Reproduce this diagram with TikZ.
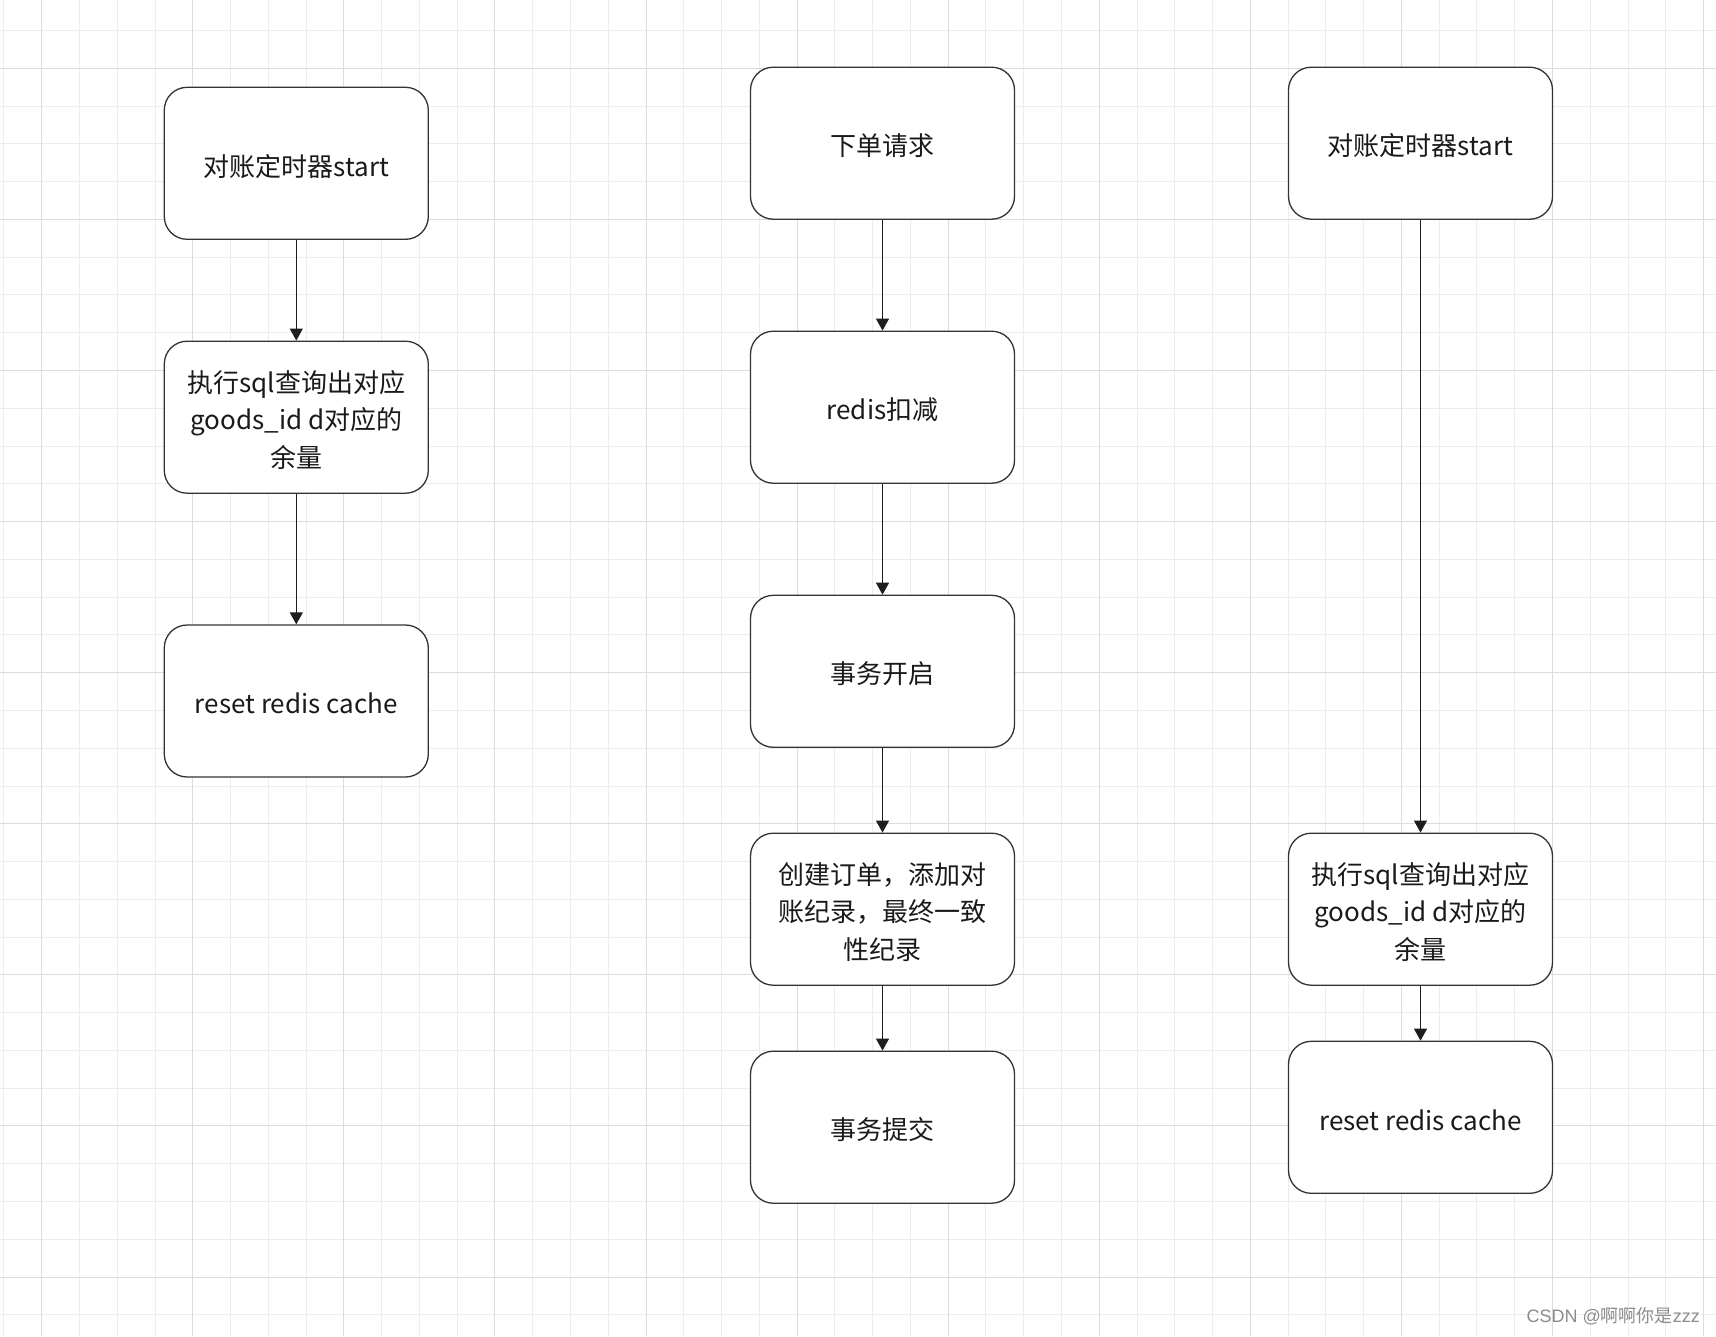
\documentclass[tikz,border=0pt]{standalone}
\usepackage{fontspec}
\setmainfont{Noto Sans CJK SC}
\newfontfamily\wmlat{Liberation Sans}
\usetikzlibrary{arrows.meta}
\definecolor{gridminor}{HTML}{EDEDED}
\definecolor{gridmajor}{HTML}{DCDCDC}
\definecolor{boxline}{HTML}{333333}
\definecolor{arrowline}{HTML}{1E1E1E}
\definecolor{textcol}{HTML}{1A1A1A}
\definecolor{wmgray}{HTML}{8C8C8C}
\newcommand{\dnline}[1]{\raisebox{-2.8pt}[\height][\depth]{#1}}
\tikzset{
  flowbox/.style={draw=boxline, fill=white, line width=1.3pt, rounded corners=22.8pt,
    minimum width=264pt, minimum height=152pt, inner sep=0pt, align=center,
    font=\fontsize{26}{37.6}\selectfont, text=textcol},
  flowarrow/.style={draw=arrowline, line width=1.3pt, -{Triangle[width=13pt,length=12pt]}},
  gridminorline/.style={draw=gridminor, line width=1pt},
  gridmajorline/.style={draw=gridmajor, line width=1pt},
  watermark/.style={anchor=east, inner sep=0pt, text=wmgray, font=\fontsize{18}{20}\selectfont},
}
\begin{document}
\begin{tikzpicture}[x=1pt,y=-1pt]
\useasboundingbox (0,0) rectangle (1716,1336);
\fill[white] (0,0) rectangle (1716,1336);
% grid
\foreach \k in {0,...,45}{
  \pgfmathsetmacro\gx{3.95+\k*37.77}
  \draw[gridminorline] (\gx,0) -- (\gx,1336);
}
\foreach \k in {0,...,34}{
  \pgfmathsetmacro\gy{30.6+\k*37.77}
  \draw[gridminorline] (0,\gy) -- (1716,\gy);
}
\foreach \k in {1,5,...,45}{
  \pgfmathsetmacro\gx{3.95+\k*37.77}
  \draw[gridmajorline] (\gx,0) -- (\gx,1336);
}
\foreach \k in {1,5,...,33}{
  \pgfmathsetmacro\gy{30.6+\k*37.77}
  \draw[gridmajorline] (0,\gy) -- (1716,\gy);
}
% left column
\node[flowbox] (l1) at (296.3,163.3) {\dnline{对账定时器start}};
\node[flowbox] (l2) at (296.3,417.2) {\dnline{执行sql查询出对应}\\\dnline{goods\_id d对应的}\\\dnline{余量}};
\node[flowbox] (l3) at (296.3,701) {\dnline{reset redis cache}};
% middle column
\node[flowbox] (m1) at (882.5,143.2) {\dnline{下单请求}};
\node[flowbox] (m2) at (882.5,407.2) {\dnline{redis扣减}};
\node[flowbox] (m3) at (882.5,671.3) {\dnline{事务开启}};
\node[flowbox] (m4) at (882.5,909.2) {\dnline{创建订单，添加对}\\\dnline{账纪录，最终一致}\\\dnline{性纪录}};
\node[flowbox] (m5) at (882.5,1127.2) {\dnline{事务提交}};
% right column
\node[flowbox] (r1) at (1420.5,143.2) {\dnline{对账定时器start}};
\node[flowbox] (r2) at (1420.5,909.2) {\dnline{执行sql查询出对应}\\\dnline{goods\_id d对应的}\\\dnline{余量}};
\node[flowbox] (r3) at (1420.5,1117.3) {\dnline{reset redis cache}};
% arrows
\draw[flowarrow] (l1) -- (l2);
\draw[flowarrow] (l2) -- (l3);
\draw[flowarrow] (m1) -- (m2);
\draw[flowarrow] (m2) -- (m3);
\draw[flowarrow] (m3) -- (m4);
\draw[flowarrow] (m4) -- (m5);
\draw[flowarrow] (r1) -- (r2);
\draw[flowarrow] (r2) -- (r3);
% watermark
\node[watermark] (wm) at (1700,1316.5) {{\wmlat CSDN @}啊啊你是{\wmlat zzz}};
\end{tikzpicture}
\end{document}
